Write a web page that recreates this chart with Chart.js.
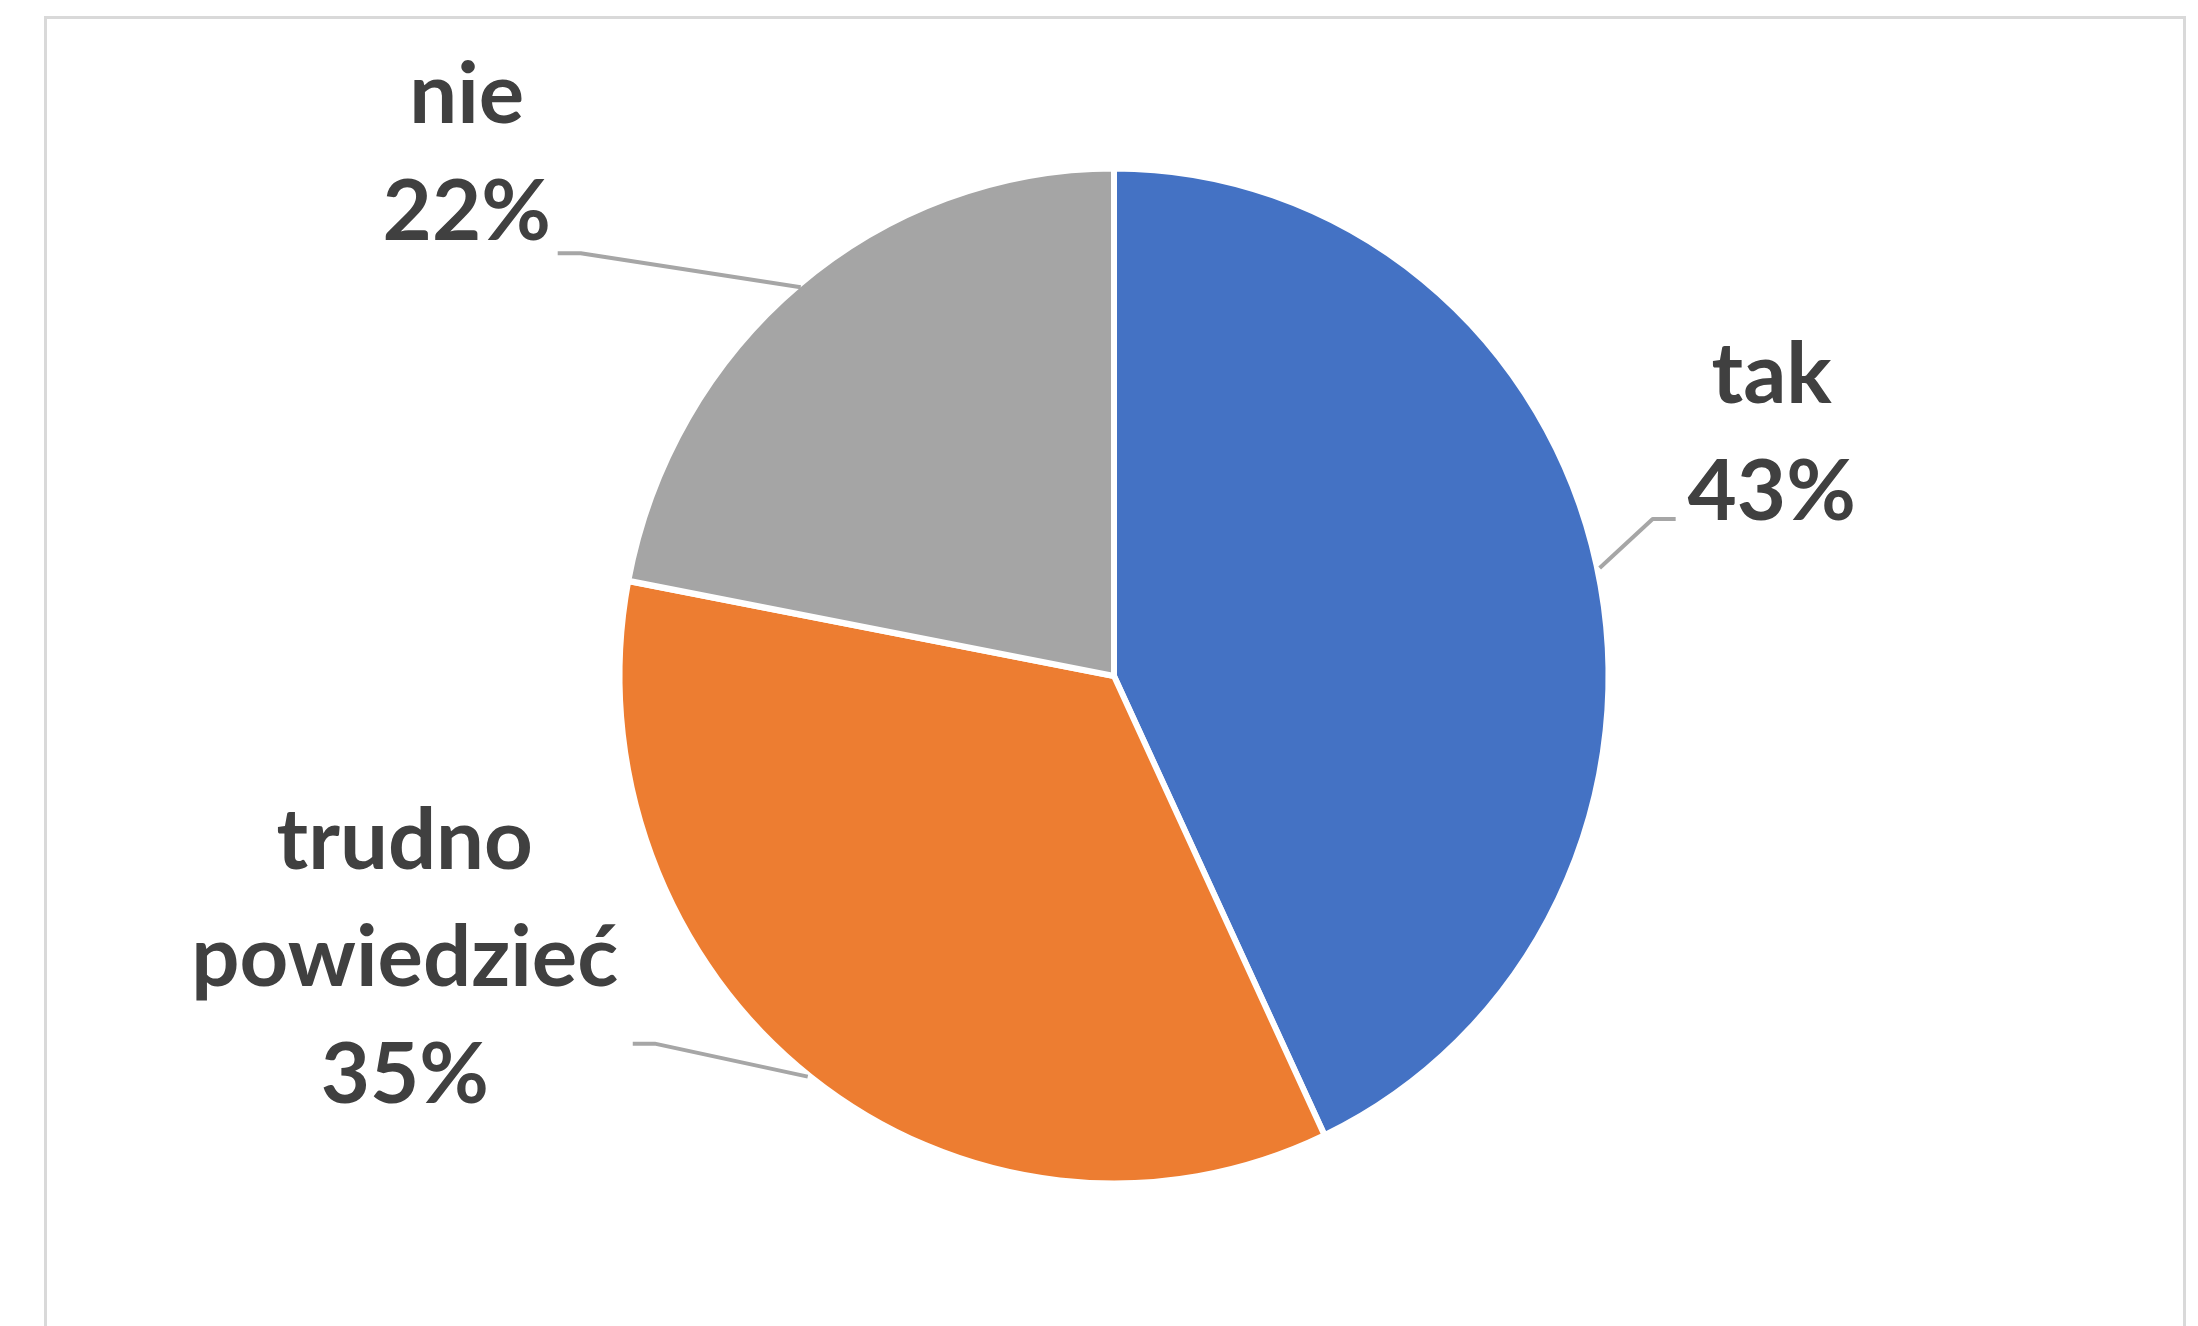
<!DOCTYPE html>
<html>
<head>
<meta charset="utf-8">
<script src="https://cdn.jsdelivr.net/npm/chart.js@4"></script>
<style>
html,body{margin:0;padding:0;background:#fff;}
#wrap{position:relative;width:2198px;height:1326px;}
canvas{display:block;}
</style>
</head>
<body>
<div id="wrap"><canvas id="c" width="2198" height="1326"></canvas></div>
<script>
const categories = ["tak", "trudno powiedzieć", "nie"];
const labelLines = [["tak"], ["trudno", "powiedzieć"], ["nie"]];
const values = [43, 35, 22];
const colors = ["#4472C4", "#ED7D31", "#A5A5A5"];

// vertical stretch of the pie in the reference picture
const stretchY = 1.0265;

// label layout (relative to slice-edge anchor at the mid-angle)
const labelStyle = [
  {start: [6, 2],  elbow: [59, -47],   end: [82, -47],   text: [178, -163]},
  {start: [-5, 2], elbow: [-158, -31], end: [-180, -31], text: [-408, -206]},
  {start: [0, 0],  elbow: [-220, -34], end: [-243, -34], text: [-334, -164]}
];

const framePlugin = {
  id: "frame",
  beforeDraw(chart) {
    const ctx = chart.ctx;
    ctx.save();
    ctx.fillStyle = "#fff";
    ctx.fillRect(0, 0, chart.width, chart.height);
    ctx.strokeStyle = "#d9d9d9";
    ctx.lineWidth = 3;
    ctx.strokeRect(45.5, 17.5, 2139, 1400);
    ctx.restore();
  },
  beforeDatasetsDraw(chart) {
    const arc = chart.getDatasetMeta(0).data[0];
    const ctx = chart.ctx;
    ctx.save();
    ctx.translate(arc.x, arc.y);
    ctx.scale(1, stretchY);
    ctx.translate(-arc.x, -arc.y);
  },
  afterDatasetsDraw(chart) {
    chart.ctx.restore();
  }
};

const labelPlugin = {
  id: "sliceLabels",
  afterDatasetsDraw(chart) {
    const ctx = chart.ctx;
    const meta = chart.getDatasetMeta(0);
    const total = values.reduce((a, b) => a + b, 0);
    meta.data.forEach((arc, i) => {
      const mid = (arc.startAngle + arc.endAngle) / 2;
      const rVis = arc.outerRadius - 3;
      const ax = arc.x + Math.cos(mid) * rVis;
      const ay = arc.y + Math.sin(mid) * rVis * stretchY;
      const s = labelStyle[i];
      ctx.save();
      ctx.strokeStyle = "#A6A6A6";
      ctx.lineWidth = 4;
      ctx.lineJoin = "round";
      ctx.beginPath();
      ctx.moveTo(ax + s.start[0], ay + s.start[1]);
      ctx.lineTo(ax + s.elbow[0], ay + s.elbow[1]);
      ctx.lineTo(ax + s.end[0], ay + s.end[1]);
      ctx.stroke();
      const lines = labelLines[i].concat([Math.round(values[i] / total * 100) + "%"]);
      ctx.fillStyle = "#404040";
      ctx.font = "bold 85px Lato";
      ctx.textAlign = "center";
      ctx.textBaseline = "alphabetic";
      const lh = 117;
      const tx = ax + s.text[0];
      const ty = ay + s.text[1];
      lines.forEach((ln, k) => ctx.fillText(ln, tx, ty + k * lh));
      ctx.restore();
    });
  }
};

new Chart(document.getElementById("c"), {
  type: "pie",
  data: {
    labels: categories,
    datasets: [{
      data: values,
      backgroundColor: colors,
      borderColor: "#ffffff",
      borderWidth: 6,
      radius: 494.5
    }]
  },
  options: {
    responsive: false,
    animation: false,
    events: [],
    layout: {padding: {top: 26, bottom: 0, left: 30, right: 0}},
    plugins: {legend: {display: false}, tooltip: {enabled: false}}
  },
  plugins: [framePlugin, labelPlugin]
});
</script>
</body>
</html>
